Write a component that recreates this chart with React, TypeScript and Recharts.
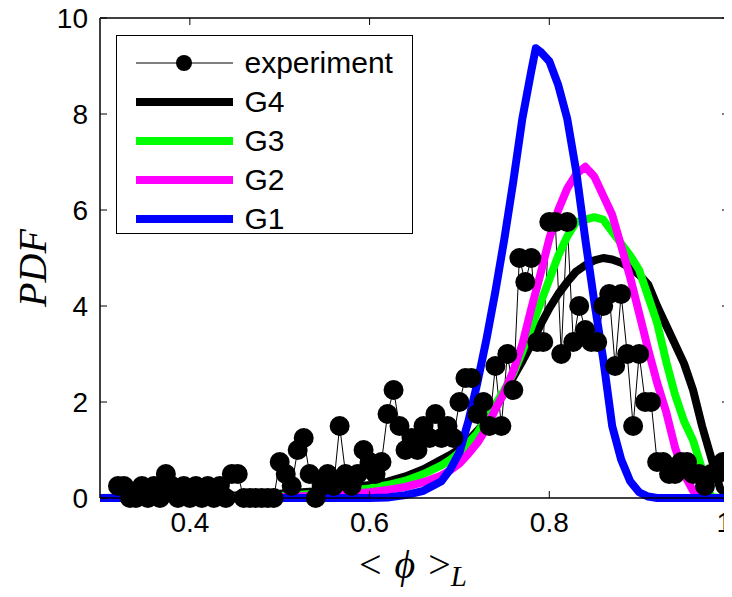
import React from 'react'
import {
  LineChart,
  Line,
  XAxis,
  YAxis,
  Legend,
  ReferenceLine,
  Customized,
} from 'recharts'

// experiment histogram (bin centres and PDF values)
const expX = [
  0.32, 0.3267, 0.3333, 0.34, 0.3467, 0.3533, 0.36, 0.3667, 0.3733, 0.38,
  0.3867, 0.3933, 0.4, 0.4067, 0.4133, 0.42, 0.4267, 0.4333, 0.44, 0.4467,
  0.4533, 0.46, 0.4667, 0.4733, 0.48, 0.4867, 0.4933, 0.5, 0.5067, 0.5133,
  0.52, 0.5267, 0.5333, 0.54, 0.5467, 0.5533, 0.56, 0.5667, 0.5733, 0.58,
  0.5867, 0.5933, 0.6, 0.6067, 0.6133, 0.62, 0.6267, 0.6333, 0.64, 0.6467,
  0.6533, 0.66, 0.6667, 0.6733, 0.68, 0.6867, 0.6933, 0.7, 0.7067, 0.7133,
  0.72, 0.7267, 0.7333, 0.74, 0.7467, 0.7533, 0.76, 0.7667, 0.7733, 0.78,
  0.7867, 0.7933, 0.8, 0.8067, 0.8133, 0.82, 0.8267, 0.8333, 0.84, 0.8467,
  0.8533, 0.86, 0.8667, 0.8733, 0.88, 0.8867, 0.8933, 0.9, 0.9067, 0.9133,
  0.92, 0.9267, 0.9333, 0.94, 0.9467, 0.9533, 0.96, 0.9667, 0.9733, 0.98,
  0.9867, 0.9933, 1.0,
]
const expPdf = [
  0.25, 0.25, 0, 0, 0.25, 0, 0.25, 0, 0.5, 0.25,
  0, 0.25, 0, 0.25, 0, 0.25, 0, 0.25, 0, 0.5,
  0.5, 0, 0, 0, 0, 0, 0, 0.75, 0.5, 0.25,
  1.0, 1.25, 0.5, 0, 0.25, 0.5, 0.25, 1.5, 0.5, 0.25,
  0.5, 1.0, 0.75, 0.5, 0.75, 1.75, 2.25, 1.5, 1.0, 1.25,
  1.0, 1.5, 1.25, 1.75, 1.25, 1.5, 1.25, 2.0, 2.5, 2.5,
  1.75, 2.0, 1.5, 2.75, 1.5, 3.0, 2.25, 5.0, 4.5, 5.0,
  3.25, 3.25, 5.75, 5.75, 3.0, 5.75, 3.25, 4.0, 3.5, 3.25,
  3.25, 4.0, 4.25, 2.75, 4.25, 3.0, 1.5, 3.0, 2.0, 2.0,
  0.75, 0.75, 0.5, 0.5, 0.75, 0.75, 0.5, 0.5, 0.25, 0.5,
  0.5, 0.75, 0.75,
]

// model curves
const curveX = [
  0.3, 0.35, 0.4, 0.45, 0.5, 0.55, 0.6, 0.62, 0.64, 0.66, 0.68,
  0.69, 0.7, 0.71, 0.72, 0.73, 0.74, 0.75, 0.76, 0.77, 0.78, 0.785,
  0.79, 0.8, 0.81, 0.82, 0.83, 0.84, 0.85, 0.86, 0.87, 0.88, 0.89,
  0.9, 0.91, 0.92, 0.93, 0.94, 0.95, 0.96, 0.97, 0.98, 0.99, 1.0,
]
const g4 = [
  0, 0.01, 0.03, 0.05, 0.09, 0.15, 0.27, 0.34, 0.45, 0.6, 0.8,
  0.9, 1.02, 1.2, 1.4, 1.62, 1.88, 2.2, 2.52, 2.85, 3.2, 3.4,
  3.6, 3.95, 4.25, 4.5, 4.72, 4.85, 4.95, 5.0, 4.97, 4.9, 4.8,
  4.65, 4.45, 4.0, 3.6, 3.2, 2.8, 2.25, 1.5, 0.85, 0.2, 0,
]
const g3 = [
  0, 0, 0.01, 0.02, 0.04, 0.1, 0.2, 0.27, 0.36, 0.5, 0.68,
  0.8, 0.95, 1.15, 1.35, 1.65, 1.95, 2.25, 2.6, 3.05, 3.55, 3.8,
  4.05, 4.55, 5.05, 5.45, 5.75, 5.8, 5.85, 5.8, 5.55, 5.3, 5.05,
  4.75, 4.2, 3.65, 2.85, 2.15, 1.6, 1.2, 0.6, 0.02, 0, 0,
]
const g2 = [
  0, 0, 0, 0.01, 0.02, 0.05, 0.12, 0.17, 0.23, 0.33, 0.47,
  0.58, 0.72, 0.92, 1.15, 1.45, 1.85, 2.2, 2.65, 3.2, 3.95, 4.3,
  4.65, 5.4, 6.0, 6.45, 6.75, 6.9, 6.7, 6.3, 5.9, 5.25, 4.6,
  3.85, 3.1, 2.4, 1.8, 1.05, 0.5, 0.15, 0.02, 0, 0, 0,
]
const g1 = [
  0, 0, 0, 0, 0, 0, 0, 0.01, 0.06, 0.15, 0.35,
  0.6, 0.95, 1.6, 2.4, 3.3, 4.3, 5.4, 6.6, 7.9, 8.9, 9.37,
  9.3, 9.1, 8.6, 7.9, 6.8, 5.4, 4.1, 2.9, 1.5, 0.8, 0.35,
  0.12, 0.03, 0, 0, 0, 0, 0, 0, 0, 0, 0,
]

const xTicks = [0.4, 0.6, 0.8, 1]
const yTicks = [0, 2, 4, 6, 8, 10]
const legendOrder = ['experiment', 'G4', 'G3', 'G2', 'G1']

const expData = expX.map((x, i) => ({ x, pdf: expPdf[i] }))
const curveData = curveX.map((x, i) => ({ x, g1: g1[i], g2: g2[i], g3: g3[i], g4: g4[i] }))

// the chart fills the whole window (body margin cancelled below)
const W = 732
const H = 597
const MARGIN = { top: 18, right: 3, bottom: 0, left: 0 }
const Y_W = 100
const X_H = 99
const PLOT_TOP = MARGIN.top
const PLOT_RIGHT = W - MARGIN.right
const TICK_LEN = 7
const SANS = '"Liberation Sans", Arial, Helvetica, sans-serif'
const SERIF = '"Liberation Serif", "DejaVu Serif", "Times New Roman", serif'

function XTick(props: any) {
  const { x, y, payload } = props
  // the last label sits on the right edge of the figure, keep it inside
  const atEdge = x > PLOT_RIGHT - 10
  return (
    <g>
      <line x1={x} x2={x} y1={y} y2={y - TICK_LEN} stroke="#000" strokeWidth={1} />
      <line x1={x} x2={x} y1={PLOT_TOP} y2={PLOT_TOP + TICK_LEN} stroke="#000" strokeWidth={1} />
      <text
        x={atEdge ? W : x}
        y={y + 34}
        textAnchor={atEdge ? 'end' : 'middle'}
        fontFamily={SANS}
        fontSize={28}
        fill="#000"
      >
        {String(payload.value)}
      </text>
    </g>
  )
}

function YTick(props: any) {
  const { x, y, payload } = props
  return (
    <g>
      <line x1={x} x2={x + TICK_LEN} y1={y} y2={y} stroke="#000" strokeWidth={1} />
      <line x1={PLOT_RIGHT} x2={PLOT_RIGHT - TICK_LEN} y1={y} y2={y} stroke="#000" strokeWidth={1} />
      <text x={x - 12} y={y} dy="0.36em" textAnchor="end" fontFamily={SANS} fontSize={28} fill="#000">
        {String(payload.value)}
      </text>
    </g>
  )
}

function Titles() {
  return (
    <g>
      <text
        x={46}
        y={268}
        transform="rotate(-90 46 268)"
        textAnchor="middle"
        fontFamily={SERIF}
        fontStyle="italic"
        fontSize={40}
        fill="#000"
      >
        PDF
      </text>
      <text x={413} y={578} textAnchor="middle" fontFamily={SERIF} fontSize={40} fill="#000">
        <tspan>{'<'}</tspan>
        <tspan dx={13} fontStyle="italic">{'ϕ'}</tspan>
        <tspan dx={13}>{'>'}</tspan>
        <tspan dy={8} fontStyle="italic" fontSize={29}>L</tspan>
      </text>
    </g>
  )
}

function LegendBox(props: any) {
  const items = [...(props.payload || [])].sort(
    (a: any, b: any) => legendOrder.indexOf(a.value) - legendOrder.indexOf(b.value),
  )
  return (
    <div
      style={{
        width: 297,
        height: 199,
        border: '1.5px solid #000',
        background: '#fff',
        boxSizing: 'border-box',
        paddingTop: 7,
        fontFamily: SANS,
        fontSize: 30,
        color: '#000',
      }}
    >
      {items.map((entry: any) => (
        <div key={entry.value} style={{ display: 'flex', alignItems: 'center', height: 39 }}>
          <svg width={97} height={20} style={{ marginLeft: 18.5, flex: 'none' }}>
            {entry.value === 'experiment' ? (
              <>
                <line x1={0} x2={97} y1={10} y2={10} stroke="#000" strokeWidth={1} />
                <circle cx={48} cy={10} r={8} fill="#000" />
              </>
            ) : (
              <line x1={0} x2={97} y1={10} y2={10} stroke={entry.color} strokeWidth={8} />
            )}
          </svg>
          <span style={{ marginLeft: 12, lineHeight: '39px' }}>{entry.value}</span>
        </div>
      ))}
    </div>
  )
}

export default function App() {
  return (
    <div style={{ margin: -8, width: W, height: H, background: '#fff' }}>
      <LineChart width={W} height={H} data={curveData} margin={MARGIN}>
        <XAxis
          dataKey="x"
          type="number"
          domain={[0.3, 1]}
          ticks={xTicks}
          interval={0}
          height={X_H}
          tickSize={0}
          tickMargin={0}
          tickLine={false}
          tick={<XTick />}
          axisLine={{ stroke: '#000', strokeWidth: 1.5 }}
        />
        <YAxis
          type="number"
          domain={[0, 10]}
          ticks={yTicks}
          interval={0}
          width={Y_W}
          tickSize={0}
          tickMargin={0}
          tickLine={false}
          tick={<YTick />}
          axisLine={{ stroke: '#000', strokeWidth: 1.5 }}
        />
        <ReferenceLine y={10} stroke="#000" strokeWidth={1.5} />
        <ReferenceLine x={1} stroke="#000" strokeWidth={1.5} />
        <Line
          data={expData}
          dataKey="pdf"
          name="experiment"
          type="linear"
          stroke="#000"
          strokeWidth={1}
          dot={{ r: 10, fill: '#000', stroke: 'none' }}
          activeDot={false}
          isAnimationActive={false}
        />
        <Line dataKey="g4" name="G4" type="linear" stroke="#000000" strokeWidth={8} strokeLinejoin="round" dot={false} activeDot={false} isAnimationActive={false} />
        <Line dataKey="g3" name="G3" type="linear" stroke="#00ff00" strokeWidth={8} strokeLinejoin="round" dot={false} activeDot={false} isAnimationActive={false} />
        <Line dataKey="g2" name="G2" type="linear" stroke="#ff00ff" strokeWidth={8} strokeLinejoin="round" dot={false} activeDot={false} isAnimationActive={false} />
        <Line dataKey="g1" name="G1" type="linear" stroke="#0000ff" strokeWidth={8} strokeLinejoin="round" dot={false} activeDot={false} isAnimationActive={false} />
        <Legend
          layout="vertical"
          align="center"
          verticalAlign="middle"
          content={<LegendBox />}
          wrapperStyle={{ top: 35, left: 116, width: 'auto' }}
        />
        <Customized component={<Titles />} />
      </LineChart>
    </div>
  )
}
